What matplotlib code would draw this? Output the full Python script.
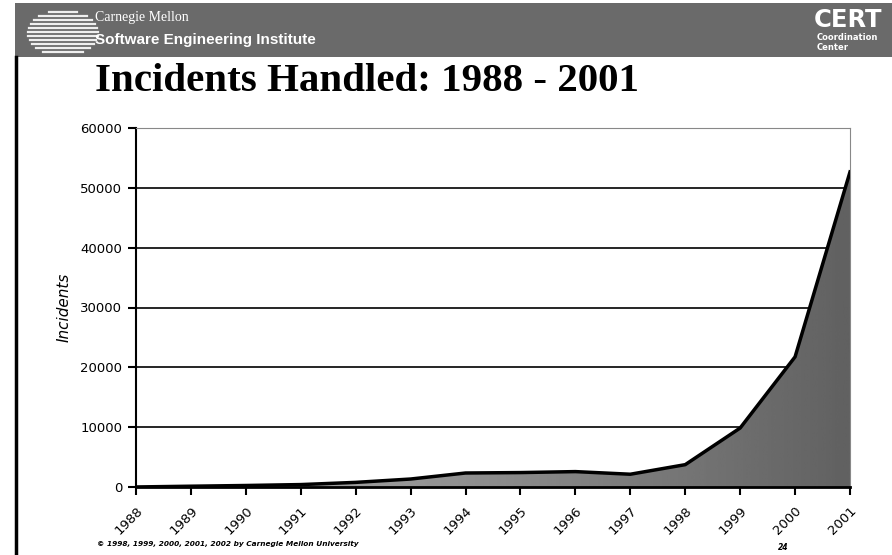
import numpy as np
import matplotlib.pyplot as plt
from matplotlib.patches import Rectangle
from matplotlib.lines import Line2D

# CERT/CC incidents handled per year
years = [1988, 1989, 1990, 1991, 1992, 1993, 1994, 1995, 1996, 1997, 1998, 1999, 2000, 2001]
incidents = [6, 132, 252, 406, 773, 1334, 2340, 2412, 2573, 2134, 3734, 9859, 21756, 52658]
yticks = [0, 10000, 20000, 30000, 40000, 50000, 60000]

W, H = 892, 555
fig = plt.figure(figsize=(W / 100, H / 100), dpi=100)
fig.patch.set_facecolor('white')

# slide header band
fig.patches.append(Rectangle((15 / W, 1 - 57 / H), 1, 54 / H, transform=fig.transFigure,
                             facecolor='#6a6a6a', edgecolor='none'))
# left border of slide
fig.add_artist(Line2D([15.5 / W, 15.5 / W], [0, 1 - 57 / H], transform=fig.transFigure,
                      color='black', lw=2.5))

# globe logo stripes
stripe_y = np.arange(12, 56, 4)
for yy in stripe_y:
    t = (yy - 33) / 22.0
    half = 30 * np.sqrt(max(0.0, 1 - t * t))
    x0 = 58 - half
    x1 = 58 + half + 10
    fig.add_artist(Line2D([x0 / W, x1 / W], [1 - yy / H, 1 - yy / H], transform=fig.transFigure,
                          color='white', lw=1.6, alpha=0.9))

fig.text(95 / W, 1 - 18 / H, 'Carnegie Mellon', color='white', fontsize=10,
         family='Liberation Serif', va='center', ha='left')
fig.text(95 / W, 1 - 40 / H, 'Software Engineering Institute', color='white', fontsize=11,
         fontweight='bold', family='Liberation Sans', va='center', ha='left')
fig.text(848 / W, 1 - 20 / H, 'CERT', color='white', fontsize=17.5, fontweight='bold',
         family='DejaVu Sans', va='center', ha='center')
fig.text(817 / W, 1 - 38 / H, 'Coordination', color='white', fontsize=6, fontweight='bold',
         family='DejaVu Sans', va='center', ha='left')
fig.text(817 / W, 1 - 48 / H, 'Center', color='white', fontsize=6, fontweight='bold',
         family='DejaVu Sans', va='center', ha='left')

# title
fig.text(95 / W, 1 - 81 / H, 'Incidents Handled: 1988 - 2001', fontsize=29.5, fontweight='bold',
         family='Liberation Serif', va='center', ha='left')

# chart
ax = fig.add_axes([136 / W, 1 - 487 / H, (850 - 136) / W, (487 - 128) / H])
ax.set_xlim(1988, 2001)
ax.set_ylim(0, 60000)

poly = ax.fill_between(years, incidents, 0, facecolor='none', edgecolor='none')
grad = np.linspace(0.72, 0.38, 256).reshape(1, -1)
img = ax.imshow(grad, cmap='gray', vmin=0, vmax=1, aspect='auto',
                extent=[1988, 2001, 0, 60000], zorder=2)
img.set_clip_path(poly.get_paths()[0], transform=ax.transData)
ax.plot(years, incidents, color='black', lw=2.5, zorder=3)

for v in yticks[1:-1]:
    ax.axhline(v, color='black', lw=1.2, zorder=1)

ax.spines['top'].set_color('#888888')
ax.spines['right'].set_color('#888888')
ax.spines['left'].set_linewidth(1.5)
ax.spines['bottom'].set_linewidth(2)
ax.spines['bottom'].set_zorder(4)

ax.set_yticks(yticks)
ax.set_yticklabels([str(v) for v in yticks], fontsize=9.5, family='DejaVu Sans')
ax.set_xticks(years)
ax.set_xticklabels([str(y) for y in years], fontsize=9.5, family='DejaVu Sans',
                   rotation=45, ha='right', rotation_mode='anchor')
ax.tick_params(axis='both', direction='out', length=6, width=1.5, color='black')
ax.tick_params(axis='y', pad=4)
ax.tick_params(axis='x', pad=6)
ax.set_ylabel('Incidents', fontsize=11, fontstyle='italic', family='DejaVu Sans', labelpad=6)

# footer
fig.text(97 / W, 1 - 544 / H, '\u00a9 1998, 1999, 2000, 2001, 2002 by Carnegie Mellon University',
         fontsize=5.3, fontweight='bold', fontstyle='italic', family='DejaVu Sans',
         va='center', ha='left')
fig.text(778 / W, 1 - 548 / H, '24', fontsize=5.5, fontweight='bold', fontstyle='italic',
         family='DejaVu Sans', va='center', ha='left')

fig.savefig('out.png', dpi=100)
